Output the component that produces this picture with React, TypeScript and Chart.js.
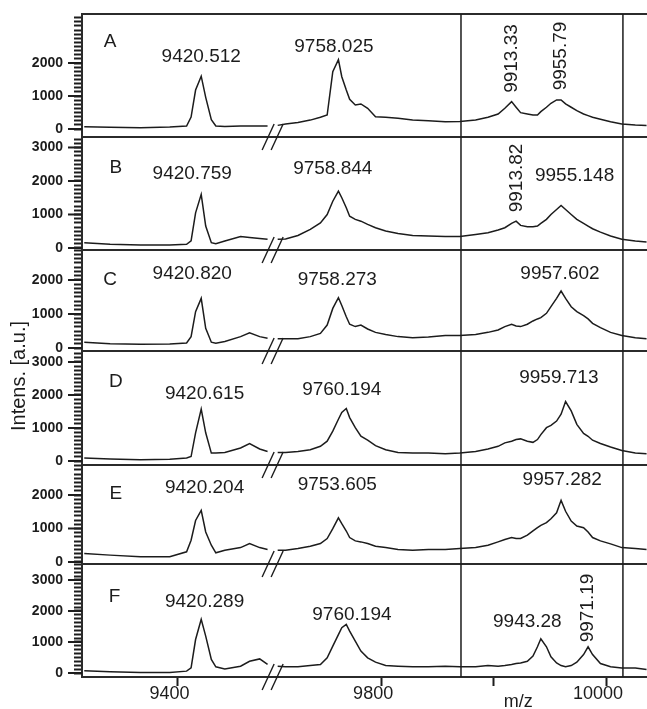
import React, { useEffect, useRef } from 'react';
import { Chart, registerables } from 'chart.js';

Chart.register(...registerables);

// m/z sample positions (left of the axis break, then right of it)
const MZ = [
  9317, 9340, 9367, 9393, 9408, 9412, 9416, 9421, 9425, 9430, 9434, 9442, 9456, 9464, 9473, 9480,
  9708, 9715, 9726, 9737, 9746, 9752, 9757, 9762, 9765, 9769, 9772, 9777, 9782, 9788, 9795, 9804,
  9815, 9828, 9842, 9857, 9870, 9884, 9895, 9904, 9910, 9916, 9920, 9924, 9930, 9935, 9939, 9942,
  9947, 9951, 9956, 9960, 9964, 9969, 9974, 9980, 9984, 9988, 9995, 10004, 10014, 10026, 10036,
];

const SPEC_A = [
  70, 50, 40, 60, 90, 360, 1180, 1600, 960, 280, 90, 75, 90, 90, 90, 90,
  110, 150, 200, 270, 355, 425, 1740, 2100, 1585, 1180, 900, 727, 760, 627, 373, 355,
  325, 270, 250, 220, 230, 270, 355, 455, 627, 830, 660, 495, 455, 425, 425, 525,
  660, 780, 880, 880, 760, 660, 555, 455, 405, 355, 295, 220, 150, 120, 110,
];
const SPEC_B = [
  160, 110, 90, 90, 110, 210, 1050, 1600, 655, 160, 130, 210, 340, 310, 280, 260,
  260, 270, 375, 555, 750, 1000, 1395, 1695, 1500, 1200, 950, 855, 800, 705, 605, 505,
  435, 375, 360, 340, 340, 405, 455, 535, 605, 735, 800, 675, 635, 635, 655, 735,
  855, 1000, 1150, 1270, 1150, 1000, 855, 735, 655, 575, 475, 360, 260, 210, 180,
];
const SPEC_C = [
  170, 125, 110, 115, 150, 335, 1070, 1460, 580, 170, 140, 190, 335, 450, 335, 290,
  270, 270, 270, 335, 430, 675, 1165, 1480, 1250, 920, 700, 630, 675, 560, 460, 400,
  335, 305, 325, 365, 365, 400, 460, 530, 630, 700, 650, 630, 700, 795, 855, 895,
  1020, 1215, 1460, 1675, 1460, 1215, 1070, 950, 855, 725, 600, 460, 365, 305, 270,
];
const SPEC_D = [
  90, 60, 40, 50, 90, 135, 855, 1570, 855, 240, 240, 260, 395, 530, 365, 290,
  260, 260, 290, 340, 445, 600, 905, 1265, 1470, 1590, 1315, 1010, 750, 630, 465, 340,
  260, 240, 240, 220, 240, 290, 365, 445, 550, 600, 650, 670, 600, 565, 650, 800,
  1010, 1080, 1210, 1420, 1800, 1520, 1110, 835, 750, 630, 530, 425, 320, 240, 220,
];
const SPEC_E = [
  255, 205, 155, 155, 305, 650, 1240, 1540, 895, 500, 275, 350, 430, 550, 430, 375,
  350, 350, 400, 470, 550, 700, 995, 1320, 1145, 925, 730, 630, 600, 550, 470, 430,
  375, 350, 375, 375, 400, 430, 500, 600, 670, 730, 700, 700, 800, 930, 1025, 1095,
  1175, 1290, 1470, 1840, 1515, 1220, 1075, 1025, 895, 730, 630, 540, 430, 400, 375,
];
const SPEC_F = [
  75, 40, 20, 20, 60, 165, 1080, 1730, 1190, 435, 200, 130, 220, 380, 455, 275,
  220, 200, 200, 240, 275, 490, 865, 1240, 1460, 1565, 1350, 1025, 705, 490, 350, 240,
  220, 200, 200, 220, 200, 200, 240, 220, 240, 275, 305, 325, 380, 545, 845, 1105,
  845, 520, 325, 240, 200, 240, 350, 595, 845, 595, 305, 200, 165, 165, 110,
];

const PANEL_NAMES = ['A', 'B', 'C', 'D', 'E', 'F'];
const Y_MIN = [-242, -60, -88, -121, -60, -129];
const Y_MAX = [3485, 3313, 2882, 3333, 2896, 3516];
const Y_LABELLED_MAX = [2000, 3000, 2000, 3000, 2000, 3000];
const Y_MINOR_STEP = 125;

// annotations: [text, m/z, intensity, rotated]
const LABELS_A = [
  ['A', 9340, 2636, 0], ['9420.512', 9421, 2182, 0], ['9758.025', 9758, 2485, 0],
  ['9913.33', 9916, 2136, 1], ['9955.79', 9960, 2212, 1],
];
const LABELS_B = [
  ['B', 9345, 2388, 0], ['9420.759', 9413, 2209, 0], ['9758.844', 9757, 2358, 0],
  ['9913.82', 9921, 2090, 1], ['9955.148', 9972, 2149, 0],
];
const LABELS_C = [
  ['C', 9340, 2000, 0], ['9420.820', 9413, 2176, 0], ['9758.273', 9761, 2000, 0], ['9957.602', 9959, 2176, 0],
];
const LABELS_D = [
  ['D', 9345, 2394, 0], ['9420.615', 9424, 2030, 0], ['9760.194', 9765, 2152, 0], ['9959.713', 9958, 2515, 0],
];
const LABELS_E = [
  ['E', 9345, 2030, 0], ['9420.204', 9424, 2209, 0], ['9753.605', 9761, 2299, 0], ['9957.282', 9961, 2448, 0],
];
const LABELS_F = [
  ['F', 9344, 2452, 0], ['9420.289', 9424, 2290, 0], ['9760.194', 9774, 1871, 0],
  ['9943.28', 9930, 1645, 0], ['9971.19', 9984, 2097, 1],
];

const X_TICKS = [9400, 9800, 9900, 10000];
const X_TICK_LABELS = ['9400', '9800', '', '10000'];
const X_RANGE_MZ = [9315, 10036.4];
const DIVIDERS_MZ = [9871, 10015];
const AXIS_GAP = 219; // m/z span cut out by the axis break
const BREAK_U = 9703.5;
const X_TITLE = 'm/z';
const X_TITLE_MZ = 9922;
const Y_TITLE = 'Intens. [a.u.]';

const toAxis = (mz: number) => (mz < 9600 ? mz + AXIS_GAP : mz);

// layout
const PANEL_WEIGHTS = [123, 113, 101, 114, 99, 113];

export default function App() {
  const ref = useRef<HTMLCanvasElement>(null);

  useEffect(() => {
    const canvas = ref.current;
    if (!canvas) return;
    const FONT = '"Liberation Sans", Arial, sans-serif';
    const INK = '#1c1c1c';
    const FRAME = '#2b2b2b';
    Chart.defaults.font.family = FONT;

    const yIds = PANEL_NAMES.map((n) => 'y' + n);
    const series = [SPEC_A, SPEC_B, SPEC_C, SPEC_D, SPEC_E, SPEC_F];
    const labels: any[] = [LABELS_A, LABELS_B, LABELS_C, LABELS_D, LABELS_E, LABELS_F];

    const scales: any = {
      x: {
        type: 'linear',
        position: 'bottom',
        min: toAxis(X_RANGE_MZ[0]),
        max: toAxis(X_RANGE_MZ[1]),
        afterBuildTicks: (s: any) => {
          s.ticks = X_TICKS.map((v) => ({ value: toAxis(v) }));
        },
        afterFit: (s: any) => {
          s.height = 32;
          s.paddingLeft = 0;
          s.paddingRight = 0;
        },
        grid: { drawOnChartArea: false, tickLength: 9, tickWidth: 2, tickColor: INK },
        border: { display: true, color: FRAME, width: 2 },
        ticks: {
          autoSkip: false,
          maxRotation: 0,
          padding: -3,
          labelOffset: -8,
          color: INK,
          font: { family: FONT, size: 18 },
          callback: (v: any) => {
            const i = X_TICKS.findIndex((t) => toAxis(t) === v);
            return i >= 0 ? X_TICK_LABELS[i] : '';
          },
        },
      },
    };

    yIds.forEach((id, i) => {
      scales[id] = {
        type: 'linear',
        position: 'left',
        stack: 'panels',
        stackWeight: PANEL_WEIGHTS[i],
        weight: PANEL_NAMES.length - i,
        min: Y_MIN[i],
        max: Y_MAX[i],
        afterBuildTicks: (s: any) => {
          const t: any[] = [];
          for (let v = 0; v <= Y_MAX[i]; v += Y_MINOR_STEP) t.push({ value: v });
          s.ticks = t;
        },
        afterFit: (s: any) => {
          s.width = 82;
          s.paddingTop = 0;
          s.paddingBottom = 0;
        },
        grid: { drawOnChartArea: false, tickLength: 8, tickWidth: 2, tickColor: INK },
        border: { display: true, color: FRAME, width: 2 },
        ticks: {
          autoSkip: false,
          padding: 11,
          color: INK,
          font: { family: FONT, size: 14, weight: 'bold' },
          callback: (v: any) => (v % 1000 === 0 && v <= Y_LABELLED_MAX[i] ? String(v) : ''),
        },
      };
    });

    const datasets = series.map((data, i) => ({
      type: 'line',
      data: MZ.map((m, j) => ({ x: toAxis(m), y: data[j] })),
      yAxisID: yIds[i],
      borderColor: INK,
      borderWidth: 1.5,
      pointRadius: 0,
      tension: 0,
      fill: false,
      segment: {
        borderColor: (c: any) =>
          c.p0.parsed.x < BREAK_U && c.p1.parsed.x > BREAK_U ? 'rgba(0,0,0,0)' : INK,
      },
    }));

    const overlay = {
      id: 'overlay',
      afterDraw(chart: any) {
        const { ctx, chartArea: ca, scales: sc } = chart;
        const xs = sc.x;
        const line = (x1: number, y1: number, x2: number, y2: number) => {
          ctx.beginPath();
          ctx.moveTo(x1, y1);
          ctx.lineTo(x2, y2);
          ctx.stroke();
        };
        ctx.save();
        // frame top + panel separators
        ctx.strokeStyle = FRAME;
        ctx.lineWidth = 2;
        yIds.forEach((id) => {
          const y = sc[id].top;
          line(ca.left, y, ca.right, y);
        });
        // vertical dividers
        ctx.strokeStyle = INK;
        ctx.lineWidth = 1.5;
        DIVIDERS_MZ.forEach((m) => {
          const x = xs.getPixelForValue(toAxis(m));
          line(x, ca.top, x, ca.bottom);
        });
        // longer major ticks
        ctx.lineWidth = 2;
        yIds.forEach((id, i) => {
          const s = sc[id];
          for (let v = 0; v <= Y_LABELLED_MAX[i]; v += 1000) {
            const y = s.getPixelForValue(v);
            line(ca.left - 14, y, ca.left, y);
          }
        });
        // axis break marks
        const bx = xs.getPixelForValue(BREAK_U);
        ctx.lineWidth = 1.4;
        const ys = yIds.slice(1).map((id) => sc[id].top).concat([ca.bottom]);
        ys.forEach((y: number) => {
          [-4.5, 4.5].forEach((o) => line(bx + o - 6, y + 13, bx + o + 6, y - 13));
        });
        // annotations
        ctx.fillStyle = INK;
        ctx.textAlign = 'center';
        ctx.textBaseline = 'middle';
        ctx.font = '19px ' + FONT;
        labels.forEach((list: any[], i: number) => {
          const s = sc[yIds[i]];
          list.forEach(([text, mz, val, rot]) => {
            const x = xs.getPixelForValue(toAxis(mz));
            const y = s.getPixelForValue(val);
            if (rot) {
              ctx.save();
              ctx.translate(x, y);
              ctx.rotate(-Math.PI / 2);
              ctx.fillText(text, 0, 0);
              ctx.restore();
            } else {
              ctx.fillText(text, x, y);
            }
          });
        });
        // axis titles
        ctx.font = '18px ' + FONT;
        ctx.textBaseline = 'alphabetic';
        ctx.fillText(X_TITLE, xs.getPixelForValue(X_TITLE_MZ), 707);
        ctx.save();
        ctx.translate(19, 376);
        ctx.rotate(-Math.PI / 2);
        ctx.textBaseline = 'middle';
        ctx.font = '20px ' + FONT;
        ctx.fillText(Y_TITLE, 0, 0);
        ctx.restore();
        ctx.restore();
      },
    };

    const chart = new Chart(canvas, {
      type: 'line',
      data: { datasets } as any,
      options: {
        responsive: false,
        animation: false,
        devicePixelRatio: 1,
        events: [],
        layout: { padding: { top: 14, left: 0, right: 0, bottom: 0 } },
        plugins: { legend: { display: false }, tooltip: { enabled: false } },
        scales,
      } as any,
      plugins: [overlay],
    });
    return () => chart.destroy();
  }, []);

  return (
    <div style={{ position: 'fixed', left: 0, top: 0, width: 647, height: 709, background: '#fff' }}>
      <canvas ref={ref} width={647} height={709} style={{ display: 'block', width: 647, height: 709 }} />
    </div>
  );
}
